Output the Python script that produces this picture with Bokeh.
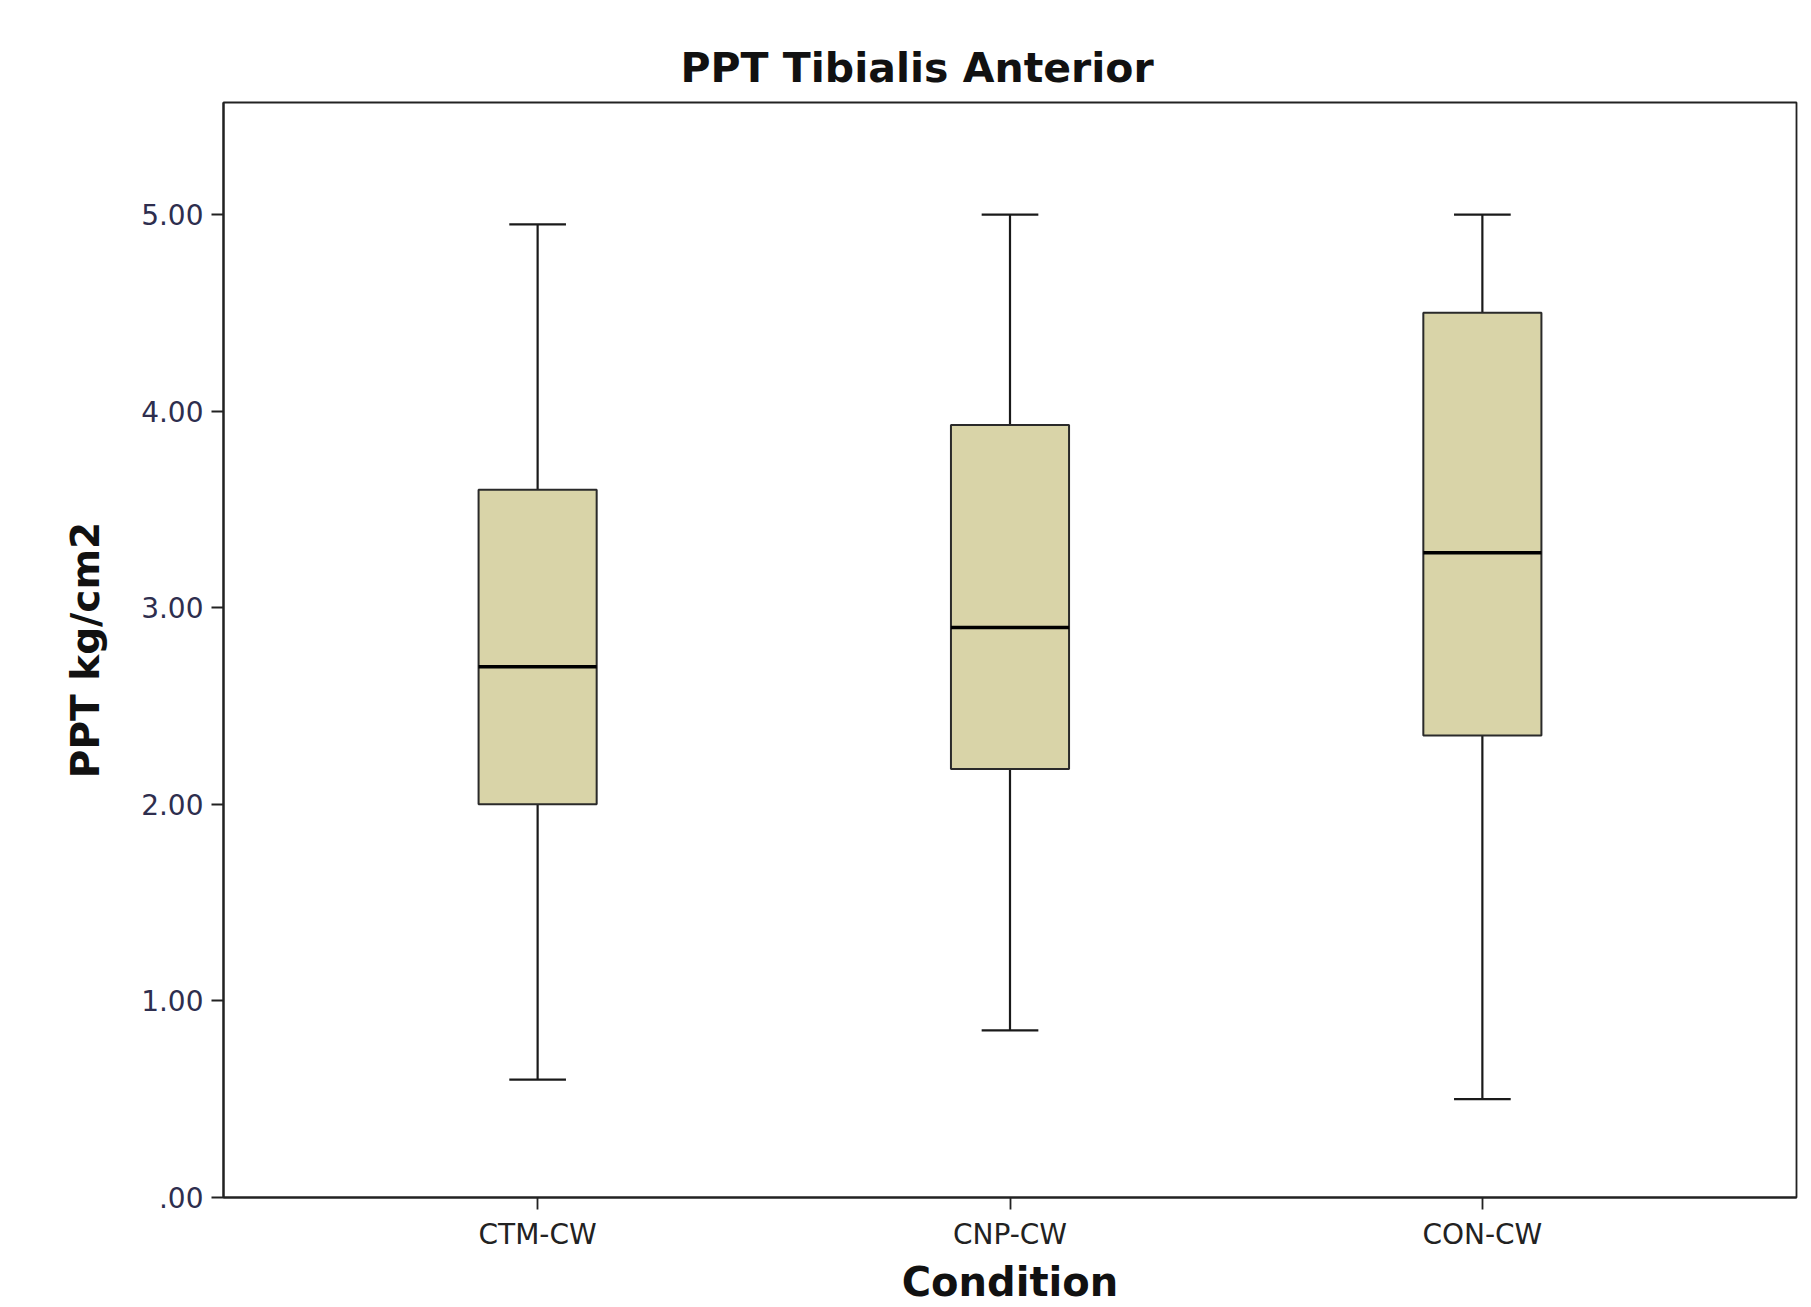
from bokeh.plotting import figure
from bokeh.models import Range1d, FixedTicker, ColumnDataSource
from bokeh.embed import file_html
from bokeh.resources import INLINE

# ---- data ----
categories = ["CTM-CW", "CNP-CW", "CON-CW"]
whisker_low = [0.60, 0.85, 0.50]
q1 = [2.00, 2.18, 2.35]
median = [2.70, 2.90, 3.28]
q3 = [3.60, 3.93, 4.50]
whisker_high = [4.95, 5.00, 5.00]
y_ticks = [0, 1, 2, 3, 4, 5]
y_tick_labels = [".00", "1.00", "2.00", "3.00", "4.00", "5.00"]

box_w = 0.25
cap_w = 0.12
xs = list(range(len(categories)))

src = ColumnDataSource(dict(
    x=xs,
    lo=whisker_low, q1=q1, med=median, q3=q3, hi=whisker_high,
    box_l=[x - box_w / 2 for x in xs], box_r=[x + box_w / 2 for x in xs],
    cap_l=[x - cap_w / 2 for x in xs], cap_r=[x + cap_w / 2 for x in xs],
))

p = figure(width=1811, height=1307, output_backend="svg", toolbar_location=None,
           x_range=Range1d(-0.665, 2.665), y_range=Range1d(0, 5.57),
           min_border_left=223, min_border_right=15, min_border_top=102, min_border_bottom=109)

p.title.text = "PPT Tibialis Anterior"
p.title.align = "left"
p.title.offset = 457
p.title.standoff = 21
p.title.text_font = "DejaVu Sans"
p.title.text_font_style = "bold"
p.title.text_font_size = "41px"
p.title.text_color = "#111111"

line_col = "#1a1a1a"
# whiskers
p.segment(x0="x", x1="x", y0="lo", y1="q1", source=src, line_color=line_col, line_width=2.2)
p.segment(x0="x", x1="x", y0="q3", y1="hi", source=src, line_color=line_col, line_width=2.2)
p.segment(x0="cap_l", x1="cap_r", y0="lo", y1="lo", source=src, line_color=line_col, line_width=2.2)
p.segment(x0="cap_l", x1="cap_r", y0="hi", y1="hi", source=src, line_color=line_col, line_width=2.2)
# boxes
p.quad(left="box_l", right="box_r", bottom="q1", top="q3", source=src,
       fill_color="#d9d4a8", line_color="#2a2a2a", line_width=2)
# medians
p.segment(x0="box_l", x1="box_r", y0="med", y1="med", source=src, line_color="#000000", line_width=3.5)

p.xgrid.visible = False
p.ygrid.visible = False
p.outline_line_color = "#222222"
p.outline_line_width = 1.8

p.xaxis.ticker = FixedTicker(ticks=xs)
p.xaxis.major_label_overrides = {i: c for i, c in zip(xs, categories)}
p.yaxis.ticker = FixedTicker(ticks=y_ticks)
p.yaxis.major_label_overrides = {t: l for t, l in zip(y_ticks, y_tick_labels)}

for ax in (p.xaxis[0], p.yaxis[0]):
    ax.minor_tick_line_color = None
    ax.major_tick_in = 0
    ax.major_tick_out = 12
    ax.major_tick_line_color = "#222222"
    ax.major_tick_line_width = 1.8
    ax.axis_line_color = "#222222"
    ax.axis_line_width = 2.2
    ax.major_label_text_font = "DejaVu Sans"
    ax.axis_label_text_font = "DejaVu Sans"
    ax.axis_label_text_font_style = "bold"
    ax.axis_label_text_color = "#111111"

p.xaxis.major_label_text_font_size = "28px"
p.xaxis.major_label_text_color = "#222222"
p.xaxis.major_label_standoff = 8
p.xaxis.axis_label = "Condition"
p.xaxis.axis_label_text_font_size = "40px"
p.xaxis.axis_label_standoff = 5

p.yaxis.major_label_text_font_size = "28px"
p.yaxis.major_label_text_color = "#2e2e4e"
p.yaxis.major_label_standoff = 8
p.yaxis.axis_label = "PPT kg/cm2"
p.yaxis.axis_label_text_font_size = "39px"
p.yaxis.axis_label_standoff = 30

open("out.html", "w").write(file_html(p, INLINE))
